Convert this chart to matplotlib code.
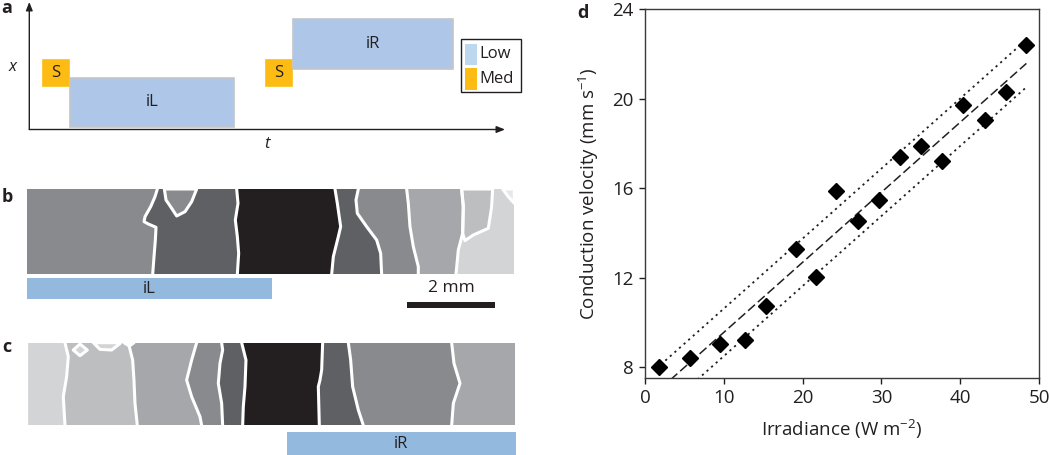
import numpy as np
import matplotlib
matplotlib.use("Agg")
import matplotlib.pyplot as plt
from matplotlib.patches import Polygon, Rectangle

plt.rcParams['font.family'] = ['Open Sans', 'DejaVu Sans']
plt.rcParams['mathtext.fontset'] = 'custom'
plt.rcParams['mathtext.rm'] = 'Open Sans'
plt.rcParams['mathtext.it'] = 'Open Sans:italic'

TXT = '#231f20'

# ---------------- data: panel d ----------------
irradiance = [1.8, 5.7, 9.5, 12.7, 15.3, 19.1, 21.7, 24.3, 27.0, 29.7,
              32.4, 35.0, 37.7, 40.4, 43.1, 45.8, 48.4]
velocity = [8.0, 8.42, 9.04, 9.2, 10.72, 13.26, 12.01, 15.88, 14.54, 15.48,
            17.40, 17.86, 17.20, 19.73, 19.06, 20.30, 22.41]
fit_slope = 0.3128
fit_intercept = 6.43
band_offset = 1.06
fit_range = [2.0, 48.4]
x_ticks = [0, 10, 20, 30, 40, 50]
y_ticks = [8, 12, 16, 20, 24]

# ---------------- data: panel a (schematic, pixel units) ----------------
pulse_labels = ['S', 'iL', 'S', 'iR']
pulse_level = ['Med', 'Low', 'Med', 'Low']
pulse_t0 = [42.7, 69.7, 266.0, 293.3]
pulse_t1 = [68.7, 234.3, 292.0, 452.7]
pulse_x0 = [60.3, 78.0, 60.3, 19.3]
pulse_x1 = [86.3, 126.7, 86.3, 69.0]
level_colors = {'Low': '#aec7e8', 'Med': '#fdbc14'}
legend_labels = ['Low', 'Med']
legend_colors = ['#bdd7ee', '#fdbc14']

# ---------------- data: panels b, c (activation maps) ----------------
b_colors = ['#898a8d', '#5f6063', '#231f20', '#5f6063', '#898a8d', '#a6a7aa', '#d3d4d5']
b_bounds = [
    [(472, 57), (465, 80), (452, 110), (435, 140), (432, 155), (445, 162), (468, 172), (466, 210), (462, 260), (458, 313)],
    [(710, 57), (714, 100), (706, 150), (712, 200), (716, 250), (712, 313)],
    [(1005, 57), (1012, 100), (1022, 170), (1015, 200), (1000, 260), (995, 313)],
    [(1075, 57), (1068, 90), (1072, 130), (1100, 170), (1130, 210), (1142, 250), (1145, 313)],
    [(1220, 57), (1225, 100), (1230, 170), (1240, 230), (1255, 290), (1255, 313)],
    [(1385, 57), (1390, 110), (1388, 190), (1375, 240), (1368, 313)],
]
b_islands = [
    ('#bdbec0', [(1385, 57), (1478, 57), (1475, 110), (1465, 175), (1420, 195), (1395, 212), (1388, 190), (1390, 110)]),
    ('#898a8d', [(493, 57), (498, 90), (515, 115), (530, 138), (555, 125), (575, 95), (590, 57)]),
    ('#e6e7e8', [(1508, 57), (1543, 57), (1543, 100), (1525, 80)]),
]
b_extent = (80, 1543, 57, 313)

c_colors = ['#d3d4d5', '#bdbec0', '#a6a7aa', '#898a8d', '#5f6063', '#231f20', '#5f6063', '#898a8d', '#a6a7aa']
c_bounds = [
    [(195, 68), (205, 110), (200, 170), (190, 230), (195, 316)],
    [(385, 68), (398, 120), (402, 180), (405, 250), (412, 316)],
    [(590, 68), (575, 120), (560, 180), (575, 230), (600, 290), (605, 316)],
    [(665, 68), (668, 90), (660, 130), (655, 190), (665, 250), (668, 316)],
    [(725, 68), (738, 120), (735, 200), (730, 260), (728, 316)],
    [(968, 68), (965, 150), (960, 180), (955, 200), (958, 316)],
    [(1045, 68), (1052, 120), (1058, 200), (1075, 270), (1090, 316)],
    [(1355, 68), (1362, 130), (1380, 190), (1360, 250), (1355, 316)],
]
c_islands = [
    ('#d3d4d5', [(220, 90), (240, 72), (262, 90), (240, 107)]),
    ('#d3d4d5', [(280, 68), (300, 88), (335, 90), (358, 72), (362, 68)]),
    ('#231f20', [(372, 68), (388, 78), (402, 68)]),
]
c_extent = (85, 1545, 68, 316)

W, H = 1050, 455
fig = plt.figure(figsize=(W / 100, H / 100), dpi=100)


def px_axes(x0, y0, x1, y1):
    return fig.add_axes([x0 / W, 1 - y1 / H, (x1 - x0) / W, (y1 - y0) / H])


# overlay axes in pixel units
ax0 = fig.add_axes([0, 0, 1, 1])
ax0.set_xlim(0, W)
ax0.set_ylim(H, 0)
ax0.axis('off')
ax0.patch.set_alpha(0)

# panel a axes arrows
ax0.annotate('', xy=(29.3, 2), xytext=(29.3, 129.5),
             arrowprops=dict(arrowstyle='-|>,head_length=0.5,head_width=0.2', lw=1.0, color=TXT, shrinkA=0, shrinkB=0))
ax0.annotate('', xy=(505, 129.5), xytext=(29.3, 129.5),
             arrowprops=dict(arrowstyle='-|>,head_length=0.5,head_width=0.2', lw=1.0, color=TXT, shrinkA=0, shrinkB=0))
ax0.text(13, 67, 'x', style='italic', fontsize=12, ha='center', va='center', color=TXT)
ax0.text(267, 144, 't', style='italic', fontsize=12, ha='center', va='center', color=TXT)

for lab, lev, t0, t1, x0, x1 in zip(pulse_labels, pulse_level, pulse_t0, pulse_t1, pulse_x0, pulse_x1):
    ec = '#c2c5ca' if lev == 'Low' else level_colors[lev]
    ax0.add_patch(Rectangle((t0, x0), t1 - t0, x1 - x0, facecolor=level_colors[lev],
                            edgecolor=ec, lw=1.2))
    ax0.text((t0 + t1) / 2, (x0 + x1) / 2, lab, ha='center', va='center', fontsize=12, color=TXT)

# legend
ax0.add_patch(Rectangle((461.3, 39.3), 59.7, 52.7, facecolor='white', edgecolor=TXT, lw=1.0))
for i, (lab, col) in enumerate(zip(legend_labels, legend_colors)):
    ax0.add_patch(Rectangle((465, 43.5 + i * 24.5), 12, 21.5, facecolor=col, edgecolor='none'))
    ax0.text(479.5, 54.5 + i * 24.5, lab, ha='left', va='center', fontsize=12, color=TXT)

# panel labels
for lab, (x, y) in zip(['a', 'b', 'c', 'd'], [(7, 8), (7, 197), (7, 347), (583, 13)]):
    ax0.text(x, y, lab, fontsize=13, fontweight='bold', ha='center', va='center', color=TXT)

# illumination bars & scale bar
bar_labels = ['iL', 'iR']
bar_x0 = [26.7, 286.7]
bar_x1 = [271.7, 516.0]
bar_y0 = [277.7, 432.3]
bar_y1 = [299.0, 455.0]
for lab, x0, x1, y0, y1 in zip(bar_labels, bar_x0, bar_x1, bar_y0, bar_y1):
    ax0.add_patch(Rectangle((x0, y0), x1 - x0, y1 - y0, facecolor='#93b9de', edgecolor='none'))
    ax0.text((x0 + x1) / 2, (y0 + y1) / 2 + 0.5, lab, ha='center', va='center', fontsize=12, color=TXT)
ax0.add_patch(Rectangle((407.3, 302.3), 87.7, 5.2, facecolor=TXT, edgecolor='none'))
ax0.text(451, 288.5, '2 mm', ha='center', va='center', fontsize=12.5, color=TXT)


def draw_map(ax, colors, bounds, islands, extent):
    xl, xr, yt, yb = extent
    full = [[(xl, yt), (xl, yb)]] + bounds + [[(xr, yt), (xr, yb)]]
    for i, col in enumerate(colors):
        left = full[i]
        right = full[i + 1]
        pts = list(left) + list(reversed(right))
        ax.add_patch(Polygon(pts, closed=True, facecolor=col, edgecolor=col, lw=0.5))
    for col, pts in islands:
        ax.add_patch(Polygon(pts, closed=True, facecolor=col, edgecolor='white', lw=2.2, joinstyle='round'))
    for bd in bounds:
        xs, ys = zip(*bd)
        ax.plot(xs, ys, color='white', lw=2.2, solid_joinstyle='round')
    ax.set_xlim(xl, xr)
    ax.set_ylim(yb, yt)
    ax.axis('off')


axb = px_axes(26.7, 189, 514.3, 274.3)
draw_map(axb, b_colors, b_bounds, b_islands, b_extent)
axc = px_axes(28.3, 342.7, 515, 425.3)
draw_map(axc, c_colors, c_bounds, c_islands, c_extent)

# ---------------- panel d ----------------
axd = px_axes(645, 9, 1039, 378)
fx = np.array(fit_range)
axd.plot(fx, fit_slope * fx + fit_intercept, color=TXT, lw=1.1, dashes=(6, 2.5))
axd.plot(fx, fit_slope * fx + fit_intercept + band_offset, color=TXT, lw=1.3, dashes=(1.2, 2.2))
axd.plot(fx, fit_slope * fx + fit_intercept - band_offset, color=TXT, lw=1.3, dashes=(1.2, 2.2))
axd.plot(irradiance, velocity, 'D', color='black', ms=8.5, mec='black', clip_on=False, zorder=5)
axd.set_xlim(0, 50)
axd.set_ylim(7.52, 24)
axd.set_xticks(x_ticks)
axd.set_yticks(y_ticks)
axd.tick_params(direction='out', length=4, width=1.0, labelsize=13.5, colors=TXT, pad=4)
for s in axd.spines.values():
    s.set_color('#3a3a3a')
    s.set_linewidth(1.0)
axd.set_xlabel('Irradiance (W m$^{-2}$)', fontsize=13.5, color=TXT, labelpad=8)
axd.set_ylabel('Conduction velocity (mm s$^{-1}$)', fontsize=13.5, color=TXT, labelpad=8)

fig.savefig('out.png', dpi=100)
